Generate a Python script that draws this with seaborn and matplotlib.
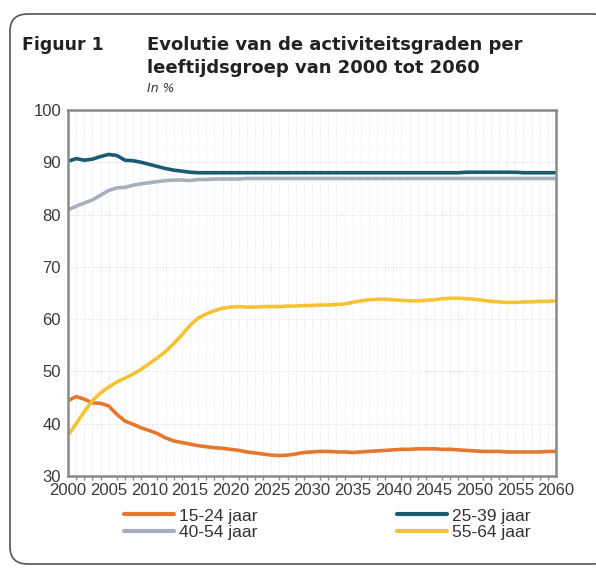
import numpy as np
import pandas as pd
import matplotlib
matplotlib.use("Agg")
import matplotlib.pyplot as plt
import seaborn as sns
from matplotlib.patches import FancyBboxPatch
from matplotlib.ticker import MultipleLocator
from matplotlib.lines import Line2D

years = list(range(2000, 2061))

g15_24 = [44.4, 45.2, 44.7, 44.0, 43.9, 43.4, 41.8, 40.5, 39.9, 39.2,
          38.7, 38.1, 37.3, 36.7, 36.4, 36.1, 35.8, 35.6, 35.4, 35.3,
          35.1, 34.9, 34.6, 34.4, 34.2, 34.0, 33.9, 34.0, 34.2, 34.5,
          34.6, 34.7, 34.7, 34.6, 34.6, 34.5, 34.6, 34.7, 34.8, 34.9,
          35.0, 35.1, 35.1, 35.2, 35.2, 35.2, 35.1, 35.1, 35.0, 34.9,
          34.8, 34.7, 34.7, 34.7, 34.6, 34.6, 34.6, 34.6, 34.6, 34.7,
          34.7]
g25_39 = [90.2, 90.7, 90.4, 90.6, 91.1, 91.5, 91.3, 90.4, 90.3, 90.0,
          89.6, 89.2, 88.8, 88.5, 88.3, 88.1, 88.0, 88.0, 88.0, 88.0,
          88.0, 88.0, 88.0, 88.0, 88.0, 88.0, 88.0, 88.0, 88.0, 88.0,
          88.0, 88.0, 88.0, 88.0, 88.0, 88.0, 88.0, 88.0, 88.0, 88.0,
          88.0, 88.0, 88.0, 88.0, 88.0, 88.0, 88.0, 88.0, 88.0, 88.1,
          88.1, 88.1, 88.1, 88.1, 88.1, 88.1, 88.0, 88.0, 88.0, 88.0,
          88.0]
g40_54 = [80.9, 81.6, 82.2, 82.8, 83.7, 84.6, 85.1, 85.2, 85.6, 85.9,
          86.1, 86.3, 86.5, 86.6, 86.6, 86.5, 86.7, 86.7, 86.8, 86.8,
          86.8, 86.8, 86.9, 86.9, 86.9, 86.9, 86.9, 86.9, 86.9, 86.9,
          86.9, 86.9, 86.9, 86.9, 86.9, 86.9, 86.9, 86.9, 86.9, 86.9,
          86.9, 86.9, 86.9, 86.9, 86.9, 86.9, 86.9, 86.9, 86.9, 86.9,
          86.9, 86.9, 86.9, 86.9, 86.9, 86.9, 86.9, 86.9, 86.9, 86.9,
          86.9]
g55_64 = [37.8, 40.0, 42.3, 44.4, 45.9, 47.0, 48.0, 48.7, 49.5, 50.4,
          51.5, 52.6, 53.8, 55.3, 57.0, 58.8, 60.2, 61.0, 61.6, 62.1,
          62.3, 62.4, 62.3, 62.3, 62.4, 62.4, 62.4, 62.5, 62.5, 62.6,
          62.6, 62.7, 62.7, 62.8, 62.9, 63.2, 63.5, 63.7, 63.8, 63.8,
          63.7, 63.6, 63.5, 63.5, 63.6, 63.7, 63.9, 64.0, 64.0, 63.9,
          63.8, 63.6, 63.4, 63.3, 63.2, 63.2, 63.3, 63.3, 63.4, 63.4,
          63.5]

series_names = ["15-24 jaar", "25-39 jaar", "40-54 jaar", "55-64 jaar"]
series_values = [g15_24, g25_39, g40_54, g55_64]
colors = {"15-24 jaar": "#E8772E", "25-39 jaar": "#1C5A72",
          "40-54 jaar": "#A9AEBB", "55-64 jaar": "#F6C235"}

xticks = list(range(2000, 2061, 5))
yticks = list(range(30, 101, 10))

rows = []
for name, vals in zip(series_names, series_values):
    for yr, v in zip(years, vals):
        rows.append({"jaar": yr, "waarde": v, "groep": name})
df = pd.DataFrame(rows)

sns.set_theme(style="white")
tickfont = ["Liberation Sans Narrow", "Liberation Sans", "DejaVu Sans"]
plt.rcParams["font.family"] = ["DejaVu Sans"]

fig = plt.figure(figsize=(5.96, 5.68), dpi=100)
fig.patch.set_facecolor("white")

box = FancyBboxPatch((10 / 596, 4 / 568), 600 / 596, 550 / 568,
                     boxstyle="round,pad=0,rounding_size=0.03",
                     transform=fig.transFigure, facecolor="white",
                     edgecolor="#555555", linewidth=1.2, zorder=-5)
fig.add_artist(box)

ax = fig.add_axes([68 / 596, 1 - 476 / 568, 488 / 596, 366 / 568])
ax.set_zorder(2)
ax.set_facecolor("white")

sns.lineplot(data=df, x="jaar", y="waarde", hue="groep",
             hue_order=series_names, palette=colors, linewidth=2.6,
             ax=ax, legend=False)

ax.set_xlim(2000, 2060)
ax.set_ylim(30, 100)
ax.set_xticks(xticks)
ax.set_yticks(yticks)
ax.xaxis.set_minor_locator(MultipleLocator(1))
ax.grid(True, which="major", axis="y", color="#DDDDDD", linestyle=(0, (1, 1.5)), linewidth=0.8)
ax.grid(True, which="both", axis="x", color="#E2E2E2", linestyle=(0, (1, 1.5)), linewidth=0.7)
ax.set_axisbelow(True)
ax.set_xlabel("")
ax.set_ylabel("")
for s in ax.spines.values():
    s.set_color("#8A8A8A")
    s.set_linewidth(1.8)
ax.tick_params(axis="both", which="major", length=4, width=1.2, color="#8A8A8A",
               labelsize=12, labelcolor="#3A3A3A", pad=1)
ax.tick_params(axis="x", which="minor", length=3, width=1, color="#8A8A8A", bottom=True)
ax.tick_params(axis="y", which="minor", left=False)
for lab in ax.get_xticklabels() + ax.get_yticklabels():
    lab.set_family(tickfont)

fig.text(22 / 596, 1 - 45 / 568, "Figuur 1", fontsize=12.5, fontweight="bold",
         color="#222222", va="center", ha="left")
fig.text(147 / 596, 1 - 45 / 568, "Evolutie van de activiteitsgraden per",
         fontsize=13, fontweight="bold", color="#222222", va="center", ha="left")
fig.text(147 / 596, 1 - 68 / 568, "leeftijdsgroep van 2000 tot 2060",
         fontsize=13, fontweight="bold", color="#222222", va="center", ha="left")
fig.text(147 / 596, 1 - 88 / 568, "In %", fontsize=9, fontstyle="italic",
         color="#333333", va="center", ha="left")

order = ["15-24 jaar", "40-54 jaar", "25-39 jaar", "55-64 jaar"]
handles = [Line2D([0], [0], color=colors[n], linewidth=3) for n in order]
leg = fig.legend(handles, order, loc="center", bbox_to_anchor=(0.549, 1 - 524 / 568),
                 ncol=2, frameon=False, handlelength=2.9, handletextpad=0.3,
                 columnspacing=8.0, labelspacing=0.05,
                 prop={"family": tickfont, "size": 12.5})
for t in leg.get_texts():
    t.set_color("#333333")

fig.savefig("out.png", dpi=100, facecolor="white")
